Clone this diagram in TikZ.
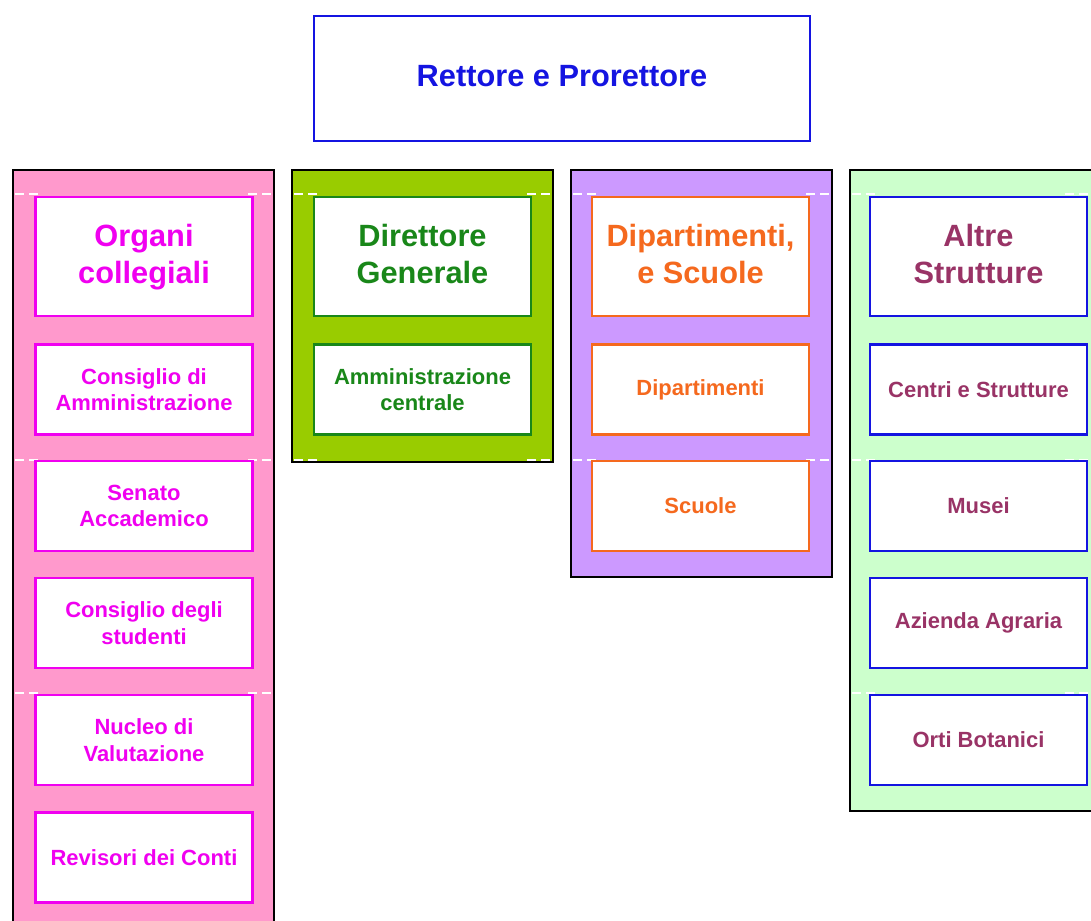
\documentclass[tikz,border=0pt]{standalone}
\usepackage{fontspec}
\setmainfont{Liberation Sans}

\definecolor{rosa}{RGB}{255,153,204}
\definecolor{verde}{RGB}{153,204,0}
\definecolor{lilla}{RGB}{204,153,255}
\definecolor{verdino}{RGB}{204,255,204}
\definecolor{magenta1}{RGB}{240,0,240}
\definecolor{verdescuro}{RGB}{25,135,25}
\definecolor{arancio}{RGB}{245,105,30}
\definecolor{prugna}{RGB}{153,51,102}
\definecolor{blu}{RGB}{20,20,225}

\tikzset{
  unit/.style={draw, fill=white, line width=1.4pt, align=center, inner sep=0pt,
    minimum width=43.4mm, minimum height=18mm,
    font=\bfseries\fontsize{12.5}{15}\selectfont},
  head/.style={unit, minimum height=23.8mm, text depth=0.5ex, font=\bfseries\fontsize{17.5}{21}\selectfont},
  column/.style={draw=black, line width=0.9pt},
  gridline/.style={white, line width=0.7pt, dash pattern=on 5pt off 3pt}
}

\begin{document}
\begin{tikzpicture}[x=0.2mm, y=-0.2mm]
    \clip (0,0) rectangle (1091,921);
    \fill[white] (0,0) rectangle (1091,921);

    % top box
    \node[head, draw=blu, text=blu, minimum width=99.2mm, minimum height=25mm] (rettore) at (562,78.5) {Rettore e Prorettore};

    % columns
    \draw[column, fill=rosa] (13,170) rectangle (274,940);
    \draw[column, fill=verde] (292,170) rectangle (553,462);
    \draw[column, fill=lilla] (571,170) rectangle (832,577);
    \draw[column, fill=verdino] (850,170) rectangle (1110,811);

    % white dashes in the margins
    \foreach \xl/\xr/\yy in {13/274/194, 13/274/460, 13/274/693, 292/553/194, 292/553/460,
                             571/832/194, 571/832/460, 850/1091/194, 850/1091/460, 850/1091/693} {
      \draw[gridline] (\xl+2,\yy) -- (\xl+26,\yy);
      \draw[gridline] (\xr-26,\yy) -- (\xr-2,\yy);
    }

    % organi collegiali
    \node[head, draw=magenta1, text=magenta1] (organi) at (144,256.5) {Organi\\collegiali};
    \node[unit, draw=magenta1, text=magenta1] (consiglio) at (144,389.5) {Consiglio di\\Amministrazione};
    \node[unit, draw=magenta1, text=magenta1] (senato) at (144,506) {Senato\\Accademico};
    \node[unit, draw=magenta1, text=magenta1] (studenti) at (144,623) {Consiglio degli\\studenti};
    \node[unit, draw=magenta1, text=magenta1] (nucleo) at (144,740) {Nucleo di\\Valutazione};
    \node[unit, draw=magenta1, text=magenta1] (revisori) at (144,857.5) {Revisori dei Conti};

    % direttore generale
    \node[head, draw=verdescuro, text=verdescuro] (direttore) at (422.5,256.5) {Direttore\\Generale};
    \node[unit, draw=verdescuro, text=verdescuro] (amministrazione) at (422.5,389.5) {Amministrazione\\centrale};

    % dipartimenti e scuole
    \node[head, draw=arancio, text=arancio] (dipscuole) at (700.5,256.5) {Dipartimenti,\\e Scuole};
    \node[unit, draw=arancio, text=arancio] (dipartimenti) at (700.5,389.5) {Dipartimenti};
    \node[unit, draw=arancio, text=arancio] (scuole) at (700.5,506) {Scuole};

    % altre strutture
    \node[head, draw=blu, text=prugna] (altre) at (978.5,256.5) {Altre\\Strutture};
    \node[unit, draw=blu, text=prugna] (centri) at (978.5,389.5) {Centri e Strutture};
    \node[unit, draw=blu, text=prugna] (musei) at (978.5,506) {Musei};
    \node[unit, draw=blu, text=prugna] (azienda) at (978.5,623) {Azienda Agraria};
    \node[unit, draw=blu, text=prugna] (orti) at (978.5,740) {Orti Botanici};
\end{tikzpicture}
\end{document}
